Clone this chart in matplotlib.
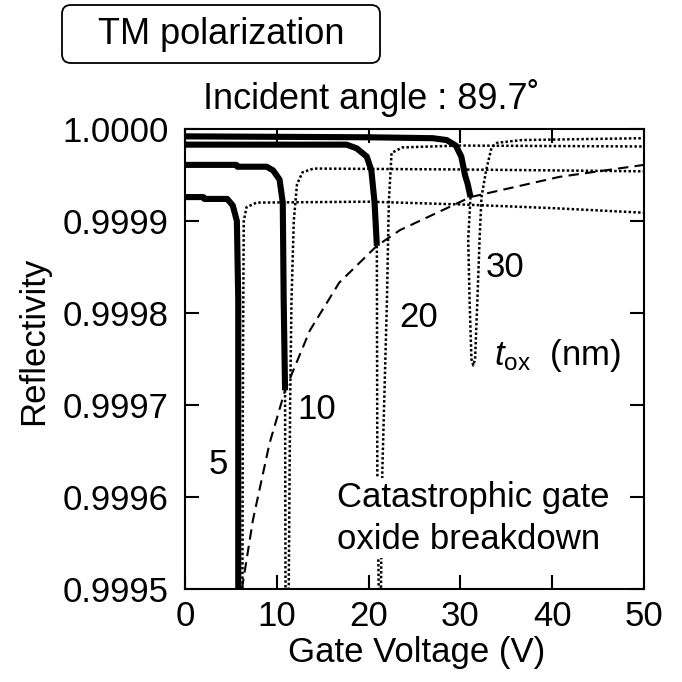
import numpy as np
import matplotlib
matplotlib.use("Agg")
import matplotlib.pyplot as plt
from matplotlib.patches import FancyBboxPatch

plt.rcParams['font.family'] = ['Liberation Sans', 'DejaVu Sans']
plt.rcParams['mathtext.fontset'] = 'custom'
plt.rcParams['mathtext.rm'] = 'Liberation Sans'
plt.rcParams['mathtext.it'] = 'Liberation Sans:italic'

##############################################
# Reflectivity vs gate voltage, one curve per oxide thickness.
# Solid: before breakdown; dotted: beyond breakdown.

v_5nm = [0, 2.0, 2.1, 4.6, 5.2, 5.65, 5.8, 5.8, 5.85]
r_5nm = [0.999926, 0.999926, 0.999924, 0.999924, 0.999917, 0.99990, 0.999814, 0.99950, 0.99948]
v_5nm_post = [6.25, 6.3, 6.35, 6.4, 6.7, 7.8, 20, 30, 40, 50]
r_5nm_post = [0.99948, 0.99970, 0.999814, 0.99990, 0.999915, 0.99992, 0.999921, 0.999918, 0.999914, 0.999909]

v_10nm = [0, 5.6, 5.7, 8.9, 9.6, 10.3, 10.65, 10.75, 10.9]
r_10nm = [0.999961, 0.999961, 0.999959, 0.999959, 0.999955, 0.999945, 0.99992, 0.999814, 0.999716]
v_10nm_post = [10.9, 10.95, 11.1, 11.3, 11.45, 11.6, 11.85, 12.2, 12.8, 14, 30, 50]
r_10nm_post = [0.999716, 0.99950, 0.99945, 0.99950, 0.99970, 0.999814, 0.99990, 0.99994, 0.999953, 0.999957, 0.999956, 0.999954]

v_20nm = [0, 17.6, 18.7, 19.8, 20.3, 20.65, 20.9]
r_20nm = [0.999983, 0.999983, 0.999979, 0.99997, 0.999955, 0.99992, 0.999873]
v_20nm_post = [20.9, 20.95, 21.1, 21.3, 21.5, 22.0, 22.2, 22.5, 23.7, 30, 50]
r_20nm_post = [0.999873, 0.99963, 0.99950, 0.99946, 0.99963, 0.999814, 0.99992, 0.999974, 0.99998, 0.999982, 0.999981]

v_30nm = [0, 20, 27, 28.5, 29.5, 30.1, 30.5, 30.8, 31.1]
r_30nm = [0.999992, 0.999991, 0.99999, 0.999988, 0.999982, 0.99997, 0.99995, 0.99994, 0.999926]
v_30nm_post = [31.1, 30.85, 31.0, 31.2, 31.4, 31.6, 31.85, 32.1, 32.3, 32.8, 33.4, 34.0, 36.7, 50]
r_30nm_post = [0.999926, 0.99988, 0.999814, 0.99975, 0.999743, 0.99975, 0.999814, 0.999883, 0.999926, 0.999955, 0.99998, 0.999985, 0.999988, 0.99999]

# breakdown locus
v_bd = [6.2, 7.4, 9.2, 10.9, 13.6, 16.8, 20.9, 23.4, 31.1, 40.8, 50]
r_bd = [0.99950, 0.999575, 0.999658, 0.999716, 0.999781, 0.999833, 0.999873, 0.99989, 0.999926, 0.999948, 0.999961]

thick_v = [v_5nm, v_10nm, v_20nm, v_30nm]
thick_r = [r_5nm, r_10nm, r_20nm, r_30nm]
post_v = [v_5nm_post, v_10nm_post, v_20nm_post, v_30nm_post]
post_r = [r_5nm_post, r_10nm_post, r_20nm_post, r_30nm_post]

xticks = [0, 10, 20, 30, 40, 50]
yticks = [0.9995, 0.9996, 0.9997, 0.9998, 0.9999, 1.0000]

fig = plt.figure(figsize=(6.82, 6.82), dpi=100)
ax = fig.add_axes([185/682, 93/682, 459/682, 460/682])

for v, r in zip(post_v, post_r):
    ax.plot(v, r, color='black', lw=1.8, linestyle=(0, (1, 0.9)))
for v, r in zip(thick_v, thick_r):
    ax.plot(v, r, color='black', lw=4.4, solid_capstyle='butt', solid_joinstyle='round')
ax.plot(v_bd, r_bd, color='black', lw=1.5, linestyle=(0, (5, 3)))

ax.set_xlim(0, 50)
ax.set_ylim(0.9995, 1.0000)
ax.set_xticks(xticks)
ax.set_yticks(yticks)
ax.set_xticklabels([str(t) for t in xticks])
ax.set_yticklabels(['%.4f' % t for t in yticks])
ax.tick_params(direction='in', length=10, width=1.5, top=True, right=True, labelsize=25)
ax.tick_params(axis='x', pad=8)
ax.tick_params(axis='y', pad=12)
for s in ax.spines.values():
    s.set_linewidth(1.5)

ax.set_xlabel('Gate Voltage (V)', fontsize=25)
ax.xaxis.set_label_coords(0.504, -0.102)
ax.set_ylabel('Reflectivity', fontsize=25)
ax.yaxis.set_label_coords(-0.294, 0.54)

# thickness labels
ax.text(3.6, 0.999635, '5', fontsize=25, ha='center', va='center')
ax.text(14.3, 0.999695, '10', fontsize=25, ha='center', va='center')
ax.text(25.4, 0.999795, '20', fontsize=25, ha='center', va='center')
ax.text(34.9, 0.999849, '30', fontsize=25, ha='center', va='center')
ax.text(33.7, 0.999754, r'$t_{\rm ox}$  (nm)', fontsize=25, ha='left', va='center')
ax.text(16.6, 0.999577, 'Catastrophic gate\noxide breakdown', fontsize=25,
        ha='left', va='center', linespacing=1.35,
        bbox=dict(fc='white', ec='none', pad=2))

fig.text(371/682, 1 - 109/682, 'Incident angle : 89.7\u02da', fontsize=26,
         ha='center', va='baseline')

box = FancyBboxPatch((62/682, 1 - 63/682), 318/682, 58/682,
                     boxstyle='round,pad=0,rounding_size=0.013',
                     transform=fig.transFigure, fc='white', ec='black', lw=1.3)
fig.patches.append(box)
fig.text(221/682, 1 - 34/682, 'TM polarization', fontsize=26, ha='center', va='center')

fig.savefig('out.png', dpi=100)
